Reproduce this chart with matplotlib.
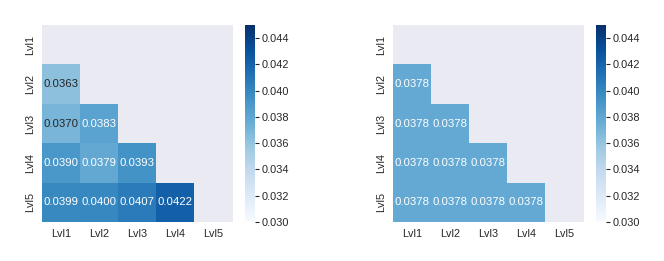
import numpy as np
import matplotlib
matplotlib.use("Agg")
import matplotlib.pyplot as plt
import seaborn as sns

labels = ["Lvl1", "Lvl2", "Lvl3", "Lvl4", "Lvl5"]

# lower triangle values (row i, cols 0..i-1)
left_rows = [
    [],
    [0.0363],
    [0.0370, 0.0383],
    [0.0390, 0.0379, 0.0393],
    [0.0399, 0.0400, 0.0407, 0.0422],
]
right_rows = [
    [],
    [0.0378],
    [0.0378, 0.0378],
    [0.0378, 0.0378, 0.0378],
    [0.0378, 0.0378, 0.0378, 0.0378],
]

def to_matrix(rows):
    n = len(rows)
    m = np.zeros((n, n))
    for i, r in enumerate(rows):
        for j, v in enumerate(r):
            m[i, j] = v
    return m

sns.set_style("darkgrid")
plt.rcParams["font.family"] = ["Liberation Sans", "DejaVu Sans"]

mask = np.triu(np.ones((5, 5), dtype=bool))

fig = plt.figure(figsize=(6.64, 2.61), dpi=100)
positions = [
    ([0.0633, 0.1494, 0.2869, 0.7548], [0.369, 0.1494, 0.0151, 0.7548]),
    ([0.5919, 0.1494, 0.2869, 0.7548], [0.8976, 0.1494, 0.0151, 0.7548]),
]

for rows, (axpos, cbpos) in zip([left_rows, right_rows], positions):
    ax = fig.add_axes(axpos)
    cax = fig.add_axes(cbpos)
    sns.heatmap(to_matrix(rows), mask=mask, cmap="Blues", vmin=0.030, vmax=0.045,
                annot=True, fmt=".4f", annot_kws={"fontsize": 8.2},
                xticklabels=labels, yticklabels=labels,
                ax=ax, cbar_ax=cax)
    ax.grid(False)
    ax.tick_params(length=0, labelsize=7.8, colors="#262626", pad=5)
    ax.set_facecolor("#EAEAF2")
    cax.grid(False)
    cax.set_yticks([0.030, 0.032, 0.034, 0.036, 0.038, 0.040, 0.042, 0.044])
    cax.yaxis.set_major_formatter(matplotlib.ticker.FormatStrFormatter("%.3f"))
    cax.tick_params(axis="y", length=3, width=0.8, color="#262626",
                    labelsize=7.9, labelcolor="#262626", pad=1.5, right=True)
    for s in cax.spines.values():
        s.set_visible(False)

fig.savefig("out.png", dpi=100)
